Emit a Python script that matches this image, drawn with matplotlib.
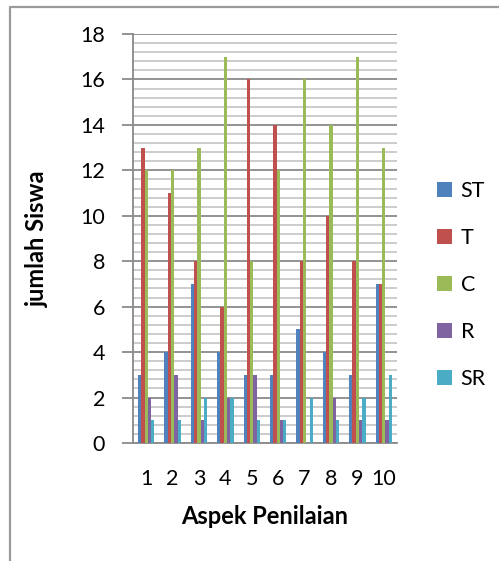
import numpy as np
import matplotlib
matplotlib.use("Agg")
import matplotlib.pyplot as plt
from matplotlib.ticker import MultipleLocator

plt.rcParams['font.family'] = ['Lato', 'DejaVu Sans']

# Data
aspek = ['1', '2', '3', '4', '5', '6', '7', '8', '9', '10']
ST = [3, 4, 7, 4, 3, 3, 5, 4, 3, 7]
T = [13, 11, 8, 6, 16, 14, 8, 10, 8, 7]
C = [12, 12, 13, 17, 8, 12, 16, 14, 17, 13]
R = [2, 3, 1, 2, 3, 1, 0, 2, 1, 1]
SR = [1, 1, 2, 2, 1, 1, 2, 1, 2, 3]

series = [('ST', ST, '#4F81BD'), ('T', T, '#C0504D'), ('C', C, '#9BBB59'),
          ('R', R, '#8064A2'), ('SR', SR, '#4BACC6')]

fig = plt.figure(figsize=(4.99, 5.61), dpi=100)

# outer chart frame (only left and top edges show in the picture)
bg = fig.add_axes([0, 0, 1, 1])
bg.set_xlim(0, 499)
bg.set_ylim(561, 0)
bg.axis('off')
bg.plot([10.5, 10.5, 499], [561, 6.5, 6.5], color='#9a9a9a', linewidth=1.6,
        clip_on=False)

ax = fig.add_axes([133/499, 118/561, 264/499, 409/561])

x = np.arange(1, len(aspek) + 1)
w = 0.125
for i, (name, vals, col) in enumerate(series):
    ax.bar(x + (i - 2) * w, vals, width=w, color=col, label=name, zorder=3)

ax.set_xlim(0.5, 10.5)
ax.set_ylim(0, 18)
ax.yaxis.set_major_locator(MultipleLocator(2))
ax.yaxis.set_minor_locator(MultipleLocator(0.4))
ax.grid(which='minor', axis='y', color='#c8c8c8', linewidth=1.3, zorder=0)
ax.grid(which='major', axis='y', color='#8a8a8a', linewidth=1.3, zorder=1)
ax.set_xticks(x)
ax.set_xticklabels(aspek)

for s in ['top', 'right']:
    ax.spines[s].set_visible(False)
for s in ['left', 'bottom']:
    ax.spines[s].set_color('#8a8a8a')
    ax.spines[s].set_linewidth(1.3)

ax.tick_params(axis='y', which='major', length=8, width=1.3, color='#8a8a8a',
               labelsize=15.5, pad=12)
ax.tick_params(axis='y', which='minor', length=0)
ax.tick_params(axis='x', length=0, labelsize=15.5, pad=19)

ax.set_ylabel('jumlah Siswa', fontsize=17, fontweight='bold')
ax.yaxis.set_label_coords(-0.318, 0.5)
ax.set_xlabel('Aspek Penilaian', fontsize=17, fontweight='bold', labelpad=11)

fig.legend(loc='center left', bbox_to_anchor=(437/499, 1 - 285/561),
           bbox_transform=fig.transFigure, frameon=False,
           fontsize=15.5, handlelength=0.7, handleheight=0.7, handletextpad=0.4,
           labelspacing=1.25, borderpad=0, borderaxespad=0)

fig.savefig('out.png', dpi=100)
